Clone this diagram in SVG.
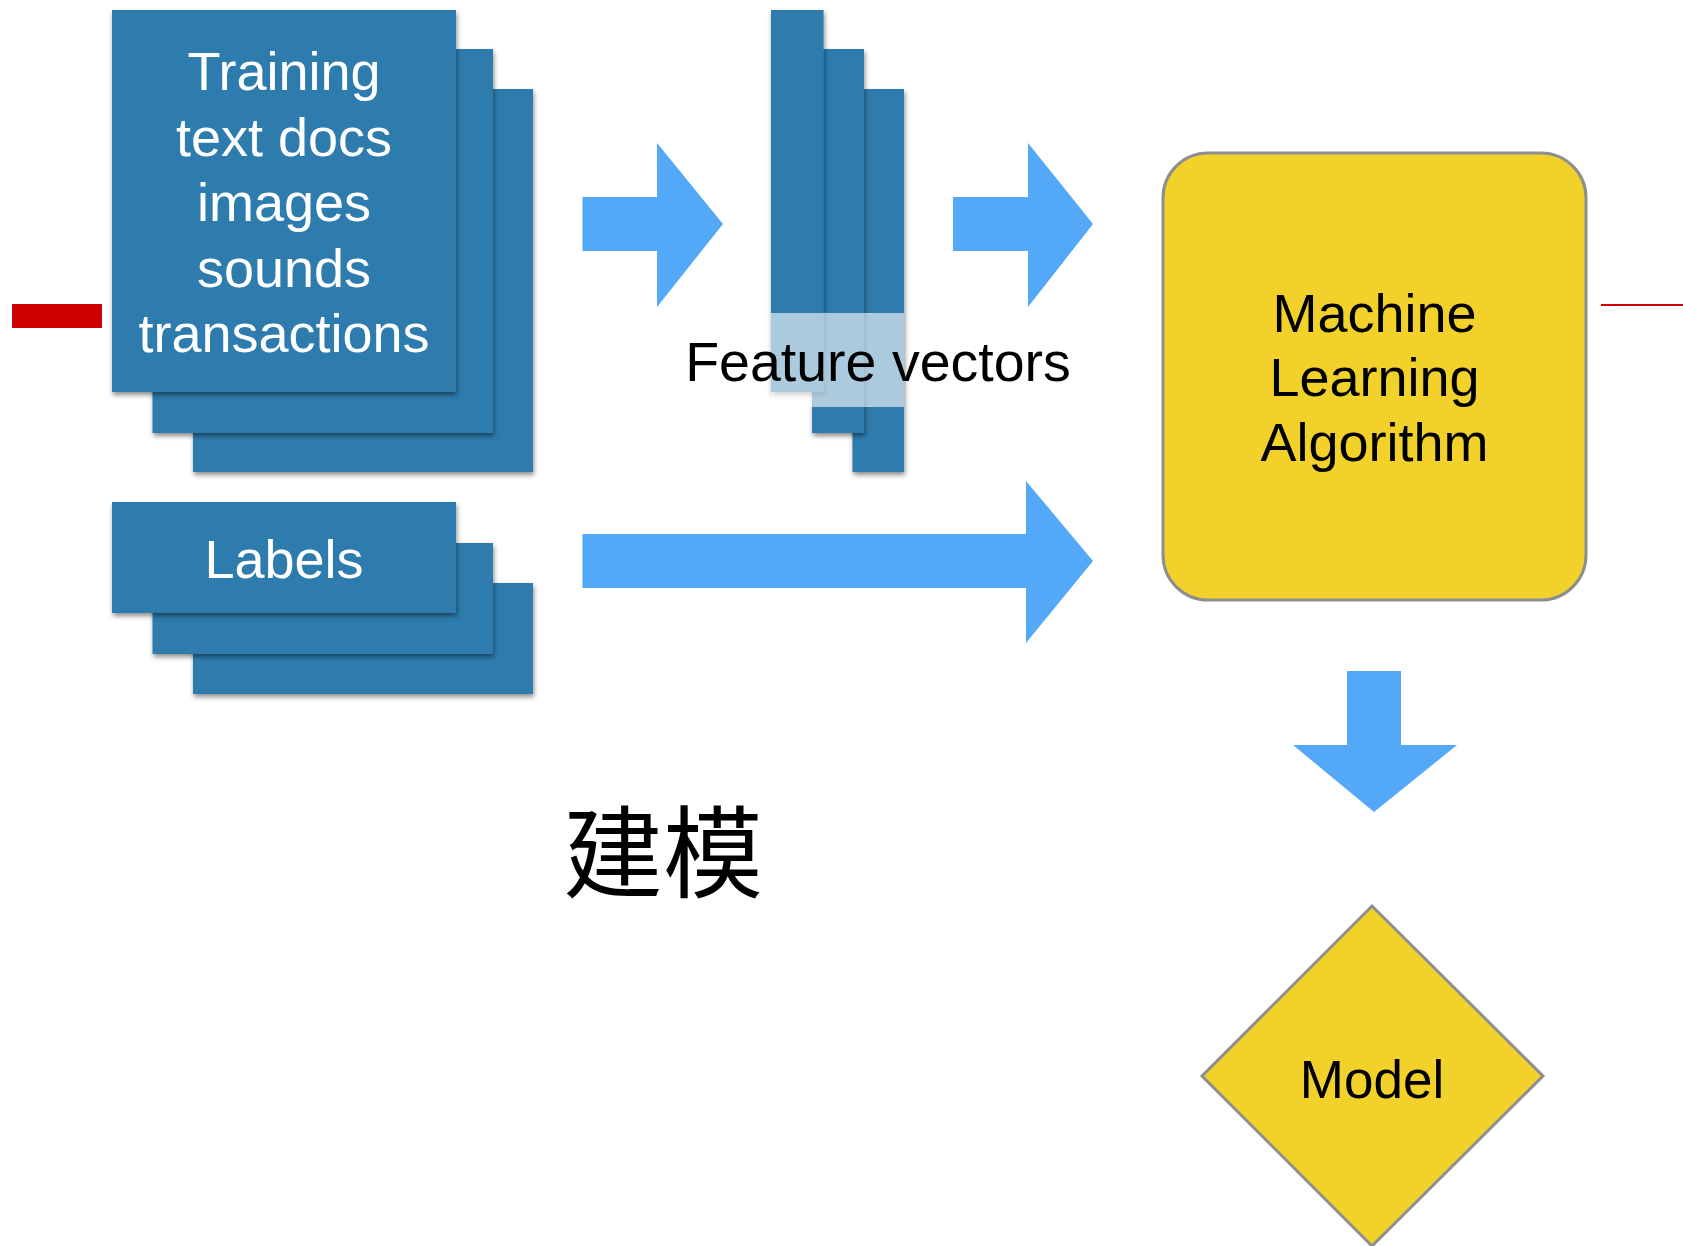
<svg xmlns="http://www.w3.org/2000/svg" width="1683" height="1246" viewBox="0 0 1683 1246">
  <defs>
    <filter id="shadow" x="-10%" y="-10%" width="125%" height="125%">
      <feDropShadow dx="1" dy="3" stdDeviation="2.5" flood-color="#000" flood-opacity="0.45"/>
    </filter>
  </defs>
  <style>
    .card { fill: #2e7bad; filter: url(#shadow); }
    .wtxt { fill: #ffffff; font-family: "Liberation Sans", Arial, sans-serif; font-size: 54px; text-anchor: middle; }
    .btxt { fill: #000000; font-family: "Liberation Sans", Arial, sans-serif; font-size: 54px; text-anchor: middle; }
    .arrow { fill: #54a8f8; }
    .yellow { fill: #f3d12b; stroke: #8e8e8e; stroke-width: 3; }
    .red { fill: #cc0000; }
  </style>
  <rect x="0" y="0" width="1683" height="1246" fill="#ffffff"/>

  <g id="training-docs">
    <rect class="card" x="193" y="89" width="340" height="383"/>
    <rect class="card" x="152.5" y="49" width="340.5" height="384"/>
    <rect class="card" x="112" y="10" width="344" height="382"/>
    <text class="wtxt" x="284" y="90">Training</text>
    <text class="wtxt" x="284" y="155.5">text docs</text>
    <text class="wtxt" x="284" y="221">images</text>
    <text class="wtxt" x="284" y="286.5">sounds</text>
    <text class="wtxt" x="284" y="352">transactions</text>
  </g>

  <g id="labels">
    <rect class="card" x="193" y="583" width="340" height="111"/>
    <rect class="card" x="152.5" y="543" width="340.5" height="111"/>
    <rect class="card" x="112" y="502" width="344" height="111"/>
    <text class="wtxt" x="284" y="578">Labels</text>
  </g>

  <g id="feature-vectors">
    <rect class="card" x="852.5" y="89" width="51.5" height="383"/>
    <rect class="card" x="812" y="49" width="52" height="384"/>
    <rect class="card" x="771" y="10" width="52.6" height="382"/>
    <rect x="771" y="313" width="133" height="94" fill="#ffffff" fill-opacity="0.6"/>
    <text class="btxt" x="878" y="381" style="font-size:55.5px">Feature vectors</text>
  </g>

  <g id="ml-algorithm">
    <rect class="yellow" x="1163" y="153" width="423" height="447" rx="45" ry="45"/>
    <text class="btxt" x="1374.5" y="332">Machine</text>
    <text class="btxt" x="1374.5" y="396">Learning</text>
    <text class="btxt" x="1374.5" y="461">Algorithm</text>
  </g>

  <g id="model">
    <polygon class="yellow" points="1372,906 1543,1076 1372,1246 1202,1076"/>
    <text class="btxt" x="1372" y="1098" style="font-size:53px">Model</text>
  </g>

  <g id="caption">
    <text x="563" y="890" font-family="'Noto Sans CJK SC', 'Noto Sans CJK TC', sans-serif" font-size="100" fill="#000000">建模</text>
  </g>

  <g id="marks">
    <rect class="red" x="12" y="304" width="90" height="24"/>
    <line x1="1601" y1="305" x2="1683" y2="305" stroke="#cc0000" stroke-width="2"/>
  </g>

  <g id="connectors">
    <polygon class="arrow" points="582.5,197 657,197 657,143 723,224 657,307 657,251 582.5,251"/>
    <polygon class="arrow" points="953,197 1028,197 1028,143 1093,224 1028,307 1028,251 953,251"/>
    <polygon class="arrow" points="582.5,534 1026,534 1026,481 1093,561 1026,643 1026,588 582.5,588"/>
    <polygon class="arrow" points="1347,671 1401,671 1401,745 1457,745 1374,812 1293,745 1347,745"/>
  </g>
</svg>
